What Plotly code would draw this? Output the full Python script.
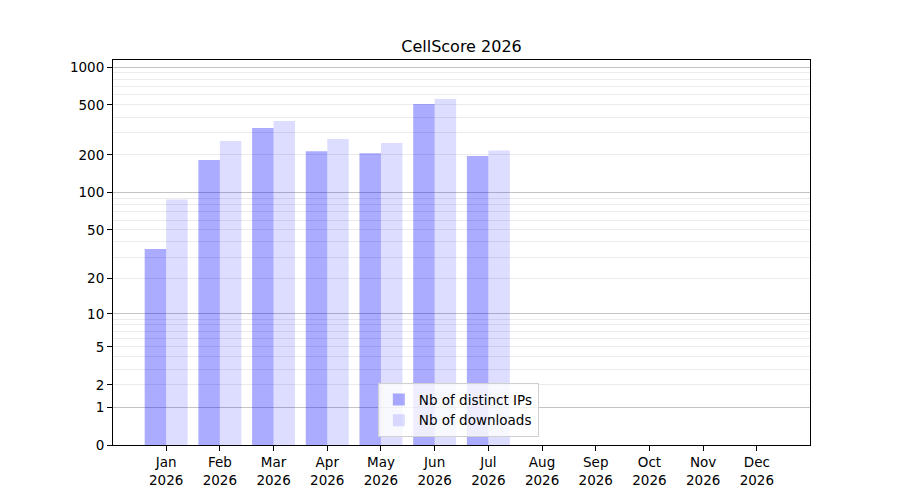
import plotly.graph_objects as go

# monthly values (0 = no data yet)
months = ["Jan", "Feb", "Mar", "Apr", "May", "Jun",
          "Jul", "Aug", "Sep", "Oct", "Nov", "Dec"]
year = "2026"
distinct_ips = [35, 182, 328, 214, 206, 508, 196, 0, 0, 0, 0, 0]
downloads = [88, 258, 372, 267, 248, 557, 217, 0, 0, 0, 0, 0]
y_ticks = [0, 1, 2, 5, 10, 20, 50, 100, 200, 500, 1000]
major_grid = [1, 10, 100, 1000]

# axis is log10(1 + value), so every value is shifted by one on a log axis
def shift(vals):
    return [v + 1 for v in vals]

minor_grid = [m * d for d in (1, 10, 100) for m in range(2, 10)]

x = list(range(len(months)))
fig = go.Figure()
fig.add_trace(go.Bar(
    x=x, y=shift(distinct_ips), name="Nb of distinct IPs",
    marker=dict(color="rgba(0,0,255,0.33)", line=dict(width=0)),
))
fig.add_trace(go.Bar(
    x=x, y=shift(downloads), name="Nb of downloads",
    marker=dict(color="rgba(0,0,255,0.135)", line=dict(width=0)),
))
# invisible trace to carry the darker major grid on a second axis
fig.add_trace(go.Scatter(x=[x[0]], y=[1], yaxis="y2", showlegend=False,
                         mode="markers", marker=dict(opacity=0),
                         hoverinfo="skip"))

top = 3.056
# page body adds an 8px offset, margins compensate for it
fig.update_layout(
    width=900, height=500,
    paper_bgcolor="white", plot_bgcolor="white",
    font=dict(family="DejaVu Sans", size=13.5, color="black"),
    margin=dict(l=105, r=98, t=52, b=63, autoexpand=False),
    title=dict(text="CellScore 2026", x=0.5, xref="paper", xanchor="center",
               y=0.924, yanchor="middle", font=dict(size=16),
               automargin=False),
    barmode="group", bargap=0.2, bargroupgap=0,
    xaxis=dict(
        range=[-0.99, 11.99], automargin=False,
        tickmode="array", tickvals=x,
        ticktext=[f"{m}<br>{year}" for m in months],
        showgrid=False, zeroline=False,
        showline=True, linecolor="black", linewidth=1, mirror=True,
        ticks="outside", ticklen=5, tickcolor="black",
    ),
    yaxis=dict(
        type="log", range=[0, top], automargin=False,
        tickmode="array", tickvals=shift(y_ticks),
        ticktext=[str(v) for v in y_ticks],
        showgrid=False, zeroline=False,
        showline=True, linecolor="black", linewidth=1, mirror=True,
        ticks="outside", ticklen=5, tickcolor="black",
        minor=dict(tickmode="array", tickvals=shift(minor_grid),
                   showgrid=True, gridcolor="#ebebeb", gridwidth=1,
                   ticks=""),
    ),
    yaxis2=dict(
        type="log", range=[0, top], overlaying="y", automargin=False,
        tickmode="array", tickvals=shift(major_grid),
        showticklabels=False, ticks="",
        showgrid=True, gridcolor="#c4c4c4", gridwidth=1,
        zeroline=False, showline=False,
    ),
    legend=dict(
        x=0.38, y=0.02, xanchor="left", yanchor="bottom",
        bgcolor="rgba(255,255,255,0.8)", bordercolor="#d0d0d0", borderwidth=1,
        font=dict(size=13.5), tracegroupgap=0,
    ),
)

fig.write_html("out.html")
